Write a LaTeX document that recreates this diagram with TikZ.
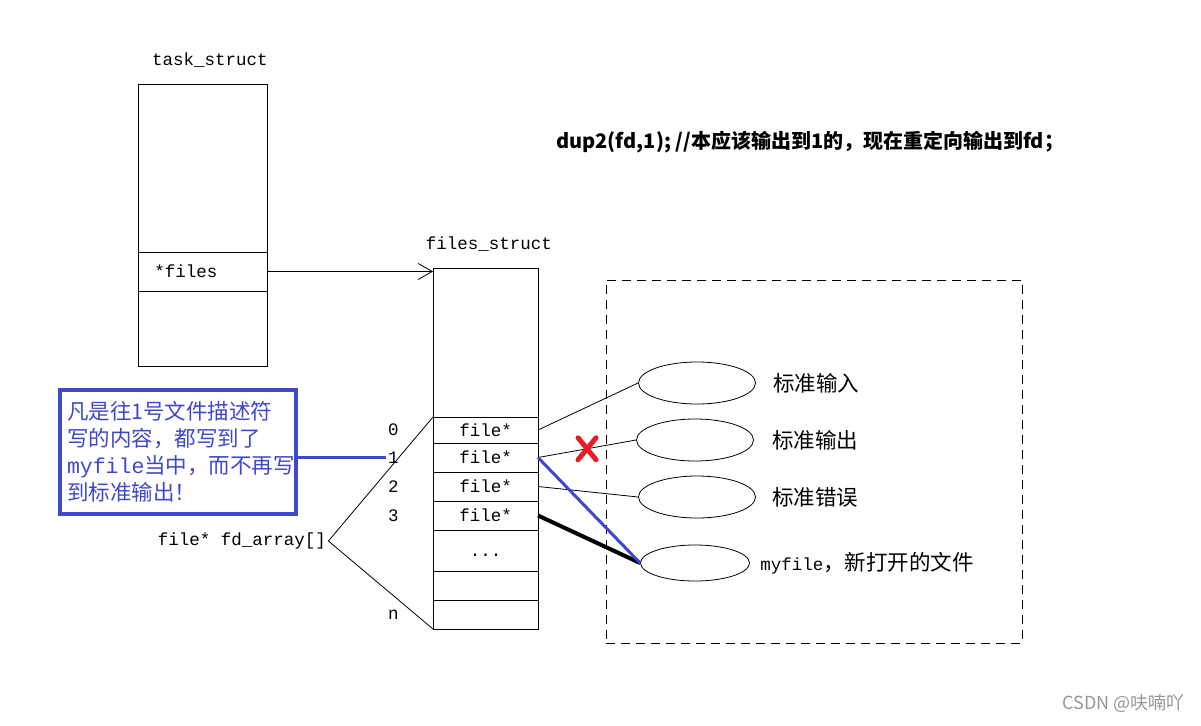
\documentclass[tikz,border=0pt]{standalone}
\usepackage{fontspec}
\setmonofont{Liberation Mono}
\newfontfamily\cjk{Noto Sans CJK SC}
\usepackage{tikz}
\usetikzlibrary{positioning,arrows.meta,shapes.geometric}
\definecolor{noteblue}{RGB}{63,72,204}
\definecolor{crossred}{RGB}{237,28,36}
\definecolor{markgray}{RGB}{150,150,150}

\begin{document}
\begin{tikzpicture}[x=1pt, y=-1pt, line width=0.8pt,
    mono/.style={font=\ttfamily\fontsize{17.5}{20}\selectfont, inner sep=2pt},
    zh/.style={font=\cjk\fontsize{21.5}{24}\selectfont, inner sep=0pt},
    slot/.style={draw, minimum width=129pt, inner sep=0pt, outer sep=0pt, anchor=north west, mono},
    cell/.style={draw, minimum width=105pt, inner sep=0pt, outer sep=0pt, anchor=north west, mono},
    fileobj/.style={draw, ellipse, minimum width=117pt, minimum height=42pt, inner sep=0pt},
    note/.style={draw=noteblue, line width=3.5pt, text=noteblue, align=left,
      minimum width=236pt, minimum height=124pt, text width=222pt,
      font=\cjk\fontsize{21.5}{27}\selectfont},
    cross/.style={draw=crossred, line width=5pt, line cap=round}]
  \useasboundingbox[fill=white] (0,0) rectangle (1201,725);
  % task_struct
  \node[mono] (tasklbl) at (210,60) {task\_struct};
  \node[slot, minimum height=168pt] (tasktop) at (138,84) {};
  \node[slot, minimum height=39pt] (taskfiles) at (tasktop.south west) {};
  \node[mono, anchor=west] (filesptr) at ([xshift=14pt]taskfiles.west) {*files};
  \node[slot, minimum height=75pt] (taskrest) at (taskfiles.south west) {};
  % files_struct
  \node[mono] (fslbl) at (489,244) {files\_struct};
  \node[cell, minimum height=149pt] (fs) at (433,268) {};
  \foreach \row/\h/\txt [remember=\row as \prev (initially fs)] in
      {fd0/26/file*, fd1/29/file*, fd2/29/file*, fd3/29/file*,
       more/41/{\smash{\raisebox{-6pt}{.{}.{}.}}}, e1/29/{}, e2/29/{}}
    \node[cell, minimum height=\h pt] (\row) at (\prev.south west) {\txt};
  \foreach \row/\lab in {fd0/0, fd1/1, fd2/2, fd3/3, e2/n}
    \node[mono, left=32pt of \row] (idx\lab) {\lab};
  \draw[-{Straight Barb[length=14pt,width=16pt]}] (taskfiles.east) -- (taskfiles.east -| fs.west);
  % fd_array
  \node[mono] (fdarr) at (242,541) {file* fd\_array[]};
  \draw (fd0.north west) -- (fdarr.east) -- (e2.south west);
  % note
  \node[note] (note) at (178,452) {凡是往1号文件描述符\\写的内容，都写到了\\{\ttfamily myfile}当中，而不再写\\到标准输出！};
  \draw[noteblue, line width=3.5pt] (note.east |- idx1.west) -- (idx1.west);
  % opened files
  \node[draw, dashed, dash pattern=on 9pt off 6pt, minimum width=416pt, minimum height=363pt,
    inner sep=0pt, anchor=north west] (ftable) at (606,280) {};
  \node[fileobj] (stdin) at (697,383) {};
  \node[fileobj] (stdout) at (695,440) {};
  \node[fileobj] (stderr) at (697,497) {};
  \node[fileobj, minimum width=109pt, minimum height=36pt] (myfile) at (695,563) {};
  \node[zh, right=17pt of stdin] (stdinlbl) {标准输入};
  \node[zh, right=18pt of stdout] (stdoutlbl) {标准输出};
  \node[zh, right=16pt of stderr] (stderrlbl) {标准错误};
  \node[zh, right=10pt of myfile] (myfilelbl) {{\ttfamily\fontsize{17.5}{20}\selectfont myfile}，新打开的文件};
  \draw (fd0.east) -- (stdin.west);
  \draw (fd1.east) -- coordinate[pos=0.5] (cut) (stdout.west);
  \draw (fd2.east) -- (stderr.west);
  \draw[line width=4pt] (fd3.east) -- (myfile.west);
  \draw[noteblue, line width=3pt] (fd1.east) -- (myfile.west);
  \draw[cross, shift={(cut)}] (-9,-11) -- (9,11) (9,-11) -- (-9,11);
  % dup2 comment
  \node[anchor=west, inner sep=0pt, font=\cjk\bfseries\fontsize{20}{24}\selectfont] (cmd) at (556,142)
    {dup2(fd,1); //本应该输出到1的，现在重定向输出到fd；};
  \node[anchor=east, inner sep=0pt, text=markgray, font=\cjk\fontsize{18}{22}\selectfont] (mark) at (1185,703)
    {CSDN @呋喃吖};
\end{tikzpicture}
\end{document}
